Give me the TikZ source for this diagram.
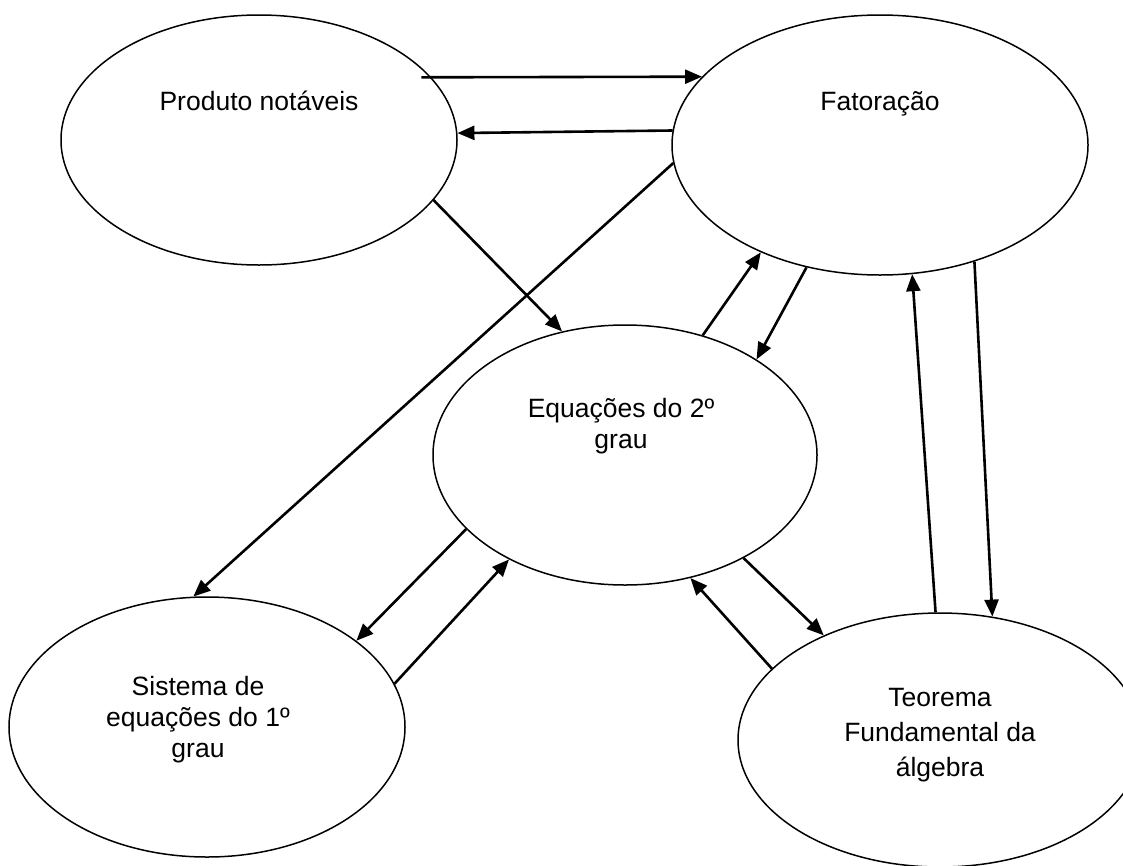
\documentclass[tikz,border=0pt]{standalone}
\usepackage{fontspec}
\setmainfont{Liberation Sans}
\usetikzlibrary{shapes.geometric,arrows.meta}
\begin{document}
\begin{tikzpicture}[x=1pt,y=-1pt,
  bub/.style={draw, ellipse, line width=1.5pt, inner sep=0pt},
  txt/.style={align=center, inner sep=0pt, anchor=base},
  arr/.style={line width=2.6pt, -{Triangle[length=17pt,width=14pt]}}]
\useasboundingbox (0,0) rectangle (1123,865);
\fill[white] (0,0) rectangle (1123,865);
% ellipses
\node[bub, minimum width=396pt, minimum height=250pt] (P) at (259,140) {};
\node[bub, minimum width=416pt, minimum height=260pt] (F) at (880,145) {};
\node[bub, minimum width=384pt, minimum height=260pt] (E) at (625,455) {};
\node[bub, minimum width=396pt, minimum height=260pt] (S) at (207,727) {};
\node[bub, minimum width=404pt, minimum height=254pt] (T) at (940,740) {};
% texts (anchor base = baseline of the last line)
\node[txt, font=\fontsize{26.5}{31}\selectfont] (Pt) at (259,110) {Produto notáveis};
\node[txt, font=\fontsize{26.5}{31}\selectfont] (Ft) at (880,110) {Fatoração};
\node[txt, font=\fontsize{26.5}{31}\selectfont] (Et) at (621,448) {Equações do 2º\\grau};
\node[txt, font=\fontsize{26.5}{31}\selectfont] (St) at (198,757) {Sistema de\\equações do 1º\\grau};
\node[txt, font=\fontsize{26.5}{35}\selectfont] (Tt) at (940,776) {Teorema\\Fundamental da\\álgebra};
% connectors
\draw[arr, shorten <=-10pt] (P.20.6) -- (F.159.4);
\draw[arr] (F.176.7) -- (P.2.0);
\draw[arr] (P.-19.7) -- (E.117.1);
\draw[arr] (F.-175.8) -- (S.96.6);
\draw[arr] (E.57.1) -- (F.-138.8);
\draw[arr] (F.-121.2) -- (E.36.6);
\draw[arr] (F.-51.3) -- (T.67.5);
\draw[arr] (T.92.7) -- (F.-76.8);
\draw[arr] (E.-155.8) -- (S.30.2);
\draw[arr] (S.13.7) -- (E.-138.9);
\draw[arr] (E.-41.9) -- (T.138.6);
\draw[arr] (T.157.6) -- (E.-62.2);
\end{tikzpicture}
\end{document}
